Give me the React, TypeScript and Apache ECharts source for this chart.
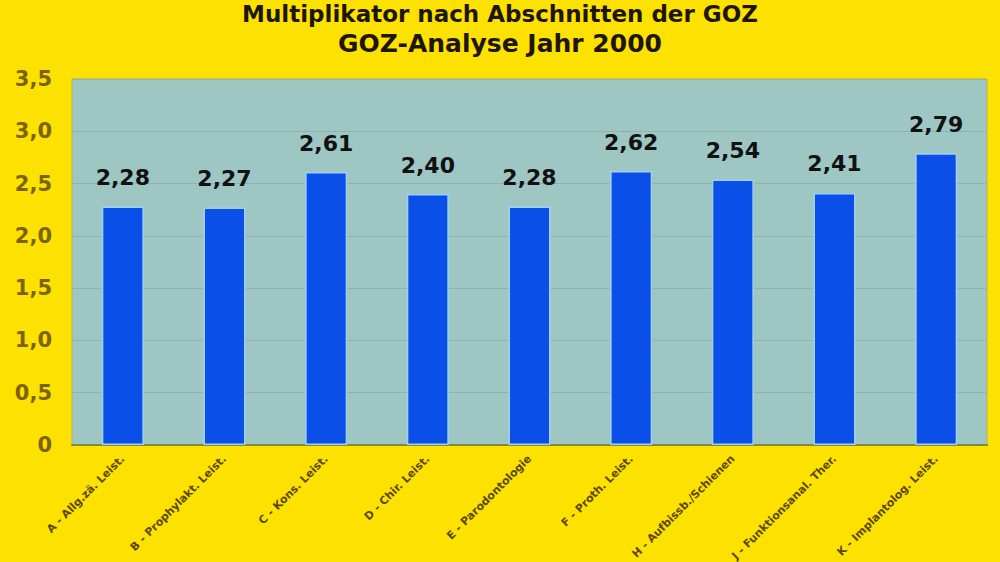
import React, { useRef, useEffect } from 'react';
import * as echarts from 'echarts';

// Abschnitte der GOZ
const categories = [
  'A - Allg.zä. Leist.',
  'B - Prophylakt. Leist.',
  'C - Kons. Leist.',
  'D - Chir. Leist.',
  'E - Parodontologie',
  'F - Proth. Leist.',
  'H - Aufbissb./Schienen',
  'J - Funktionsanal. Ther.',
  'K - Implantolog. Leist.',
];

// Multiplikator je Abschnitt
const multiplikator = [2.28, 2.27, 2.61, 2.4, 2.28, 2.62, 2.54, 2.41, 2.79];

const titleLines = ['Multiplikator nach Abschnitten der GOZ', 'GOZ-Analyse Jahr 2000'];

const fontFamily = '"DejaVu Sans", sans-serif';

const comma = (v: number, d: number) => (v === 0 ? '0' : v.toFixed(d).replace('.', ','));

const App: React.FC = () => {
  const chartRef = useRef<HTMLDivElement>(null);

  useEffect(() => {
    document.body.style.margin = '0';
    if (!chartRef.current) return;
    const chart = echarts.init(chartRef.current, undefined, { renderer: 'svg' });

    chart.setOption({
      animation: false,
      backgroundColor: '#fde100',
      title: [
        {
          text: titleLines[0],
          left: 'center',
          top: 1,
          padding: 0,
          textStyle: { fontFamily, fontSize: 23, fontWeight: 'bold', color: '#1e1600', lineHeight: 25 },
        },
        {
          text: titleLines[1],
          left: 'center',
          top: 28,
          padding: 0,
          textStyle: { fontFamily, fontSize: 25, fontWeight: 'bold', color: '#1e1600', lineHeight: 30 },
        },
      ],
      grid: {
        left: 72,
        right: 13,
        top: 79,
        bottom: 117,
        containLabel: false,
        outerBoundsMode: 'none',
        show: true,
        backgroundColor: '#9ec6c3',
        borderColor: '#b5b060',
        borderWidth: 1,
      },
      xAxis: {
        type: 'category',
        data: categories,
        axisTick: { show: false },
        axisLine: { lineStyle: { color: '#7f8a3a', width: 2 } },
        axisLabel: {
          interval: 0,
          rotate: 45,
          margin: 12,
          fontFamily,
          fontSize: 11,
          fontWeight: 'bold',
          color: '#5a4800',
        },
      },
      yAxis: {
        type: 'value',
        min: 0,
        max: 3.5,
        interval: 0.5,
        axisLine: { show: false },
        axisTick: { show: false },
        splitLine: { lineStyle: { color: '#8db4b1', width: 1 } },
        axisLabel: {
          margin: 20,
          fontFamily,
          fontSize: 21,
          fontWeight: 'bold',
          color: '#7a6300',
          formatter: (v: number) => comma(v, 1),
        },
      },
      series: [
        {
          type: 'bar',
          data: multiplikator,
          barWidth: 42,
          itemStyle: {
            color: '#0a4fe8',
            borderColor: '#9fd0f2',
            borderWidth: 1.5,
          },
          label: {
            show: true,
            position: 'top',
            distance: 18,
            fontFamily,
            fontSize: 22,
            fontWeight: 'bold',
            color: '#111111',
            formatter: (p: { value: number }) => comma(p.value, 2),
          },
        },
      ],
    });

    return () => {
      chart.dispose();
    };
  }, []);

  return <div ref={chartRef} style={{ width: '1000px', height: '562px' }} />;
};

export default App;
